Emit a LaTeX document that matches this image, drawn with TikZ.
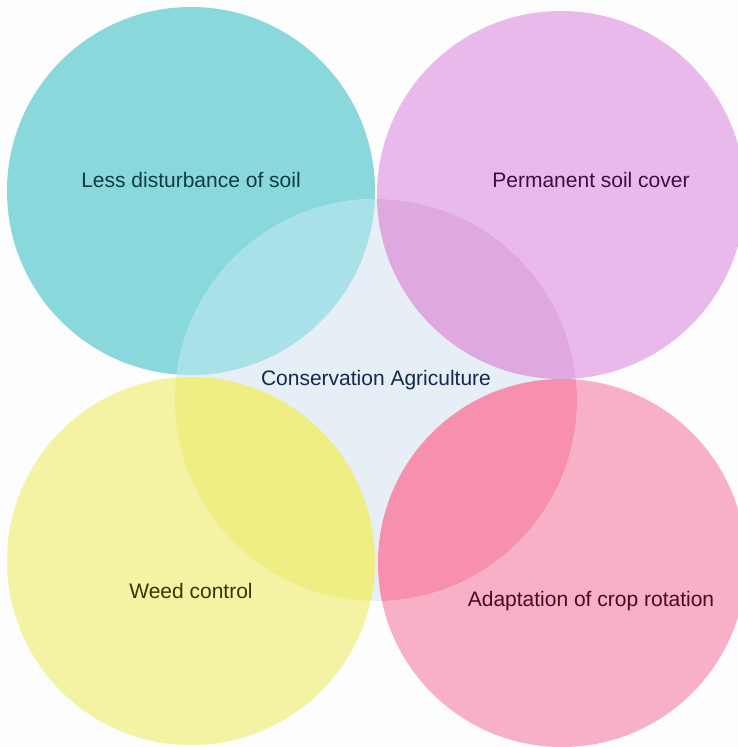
\documentclass[tikz,border=0pt]{standalone}
\usepackage{fontspec}
\setmainfont{Liberation Sans}
\definecolor{bgc}{HTML}{FDFDFD}
\definecolor{cyanc}{HTML}{89D8DC}
\definecolor{violc}{HTML}{E9B9EB}
\definecolor{yelc}{HTML}{F3F3A3}
\definecolor{pinkc}{HTML}{F8B0C7}
\definecolor{cenc}{HTML}{E6EEF6}
\definecolor{cyanx}{HTML}{A9E1E9}
\definecolor{violx}{HTML}{DFA8DF}
\definecolor{yelx}{HTML}{EEEE82}
\definecolor{pinkx}{HTML}{F78FAE}
\definecolor{tcyan}{HTML}{0E3A42}
\definecolor{tviol}{HTML}{3A0E44}
\definecolor{tcen}{HTML}{16284E}
\definecolor{tyel}{HTML}{363600}
\definecolor{tpink}{HTML}{4A0A1E}
\tikzset{lbl/.style={font=\fontsize{21}{24}\selectfont, inner sep=0pt}}
\begin{document}
\begin{tikzpicture}[x=1pt,y=-1pt]
\fill[bgc] (0,0) rectangle (738,747);
\useasboundingbox (0,0) rectangle (738,747);
\fill[cyanc] (191,191) circle (184);
\fill[violc] (561,195) circle (184);
\fill[yelc] (191,561) circle (184);
\fill[pinkc] (562,563) circle (184);
\fill[cenc] (376,400) circle (201);
\begin{scope}
\clip (376,400) circle (201);
\fill[cyanx] (191,191) circle (184);
\fill[violx] (561,195) circle (184);
\fill[yelx] (191,561) circle (184);
\fill[pinkx] (562,563) circle (184);
\end{scope}
\node[lbl, text=tcyan] (a) at (191,180) {Less disturbance of soil};
\node[lbl, text=tviol] (b) at (591,180) {Permanent soil cover};
\node[lbl, text=tcen] (c) at (376,380) {Conservation Agriculture};
\node[lbl, text=tyel] (d) at (191,591) {Weed control};
\node[lbl, text=tpink] (e) at (591,601) {Adaptation of crop rotation};
\end{tikzpicture}
\end{document}
